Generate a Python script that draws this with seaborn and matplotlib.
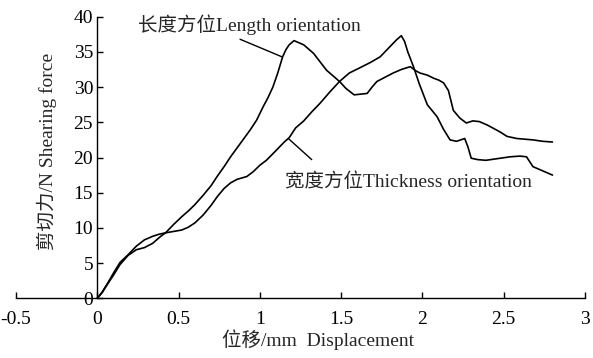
import matplotlib
matplotlib.use("Agg")
import matplotlib.pyplot as plt
import pandas as pd
import seaborn as sns

# values (displacement mm, force N)
length_x = [0.00, 0.03, 0.06, 0.10, 0.14, 0.19, 0.24, 0.29, 0.34, 0.39,
            0.42, 0.47, 0.52, 0.56, 0.60, 0.65, 0.70, 0.74, 0.78, 0.82,
            0.88, 0.94, 0.98, 1.02, 1.05, 1.08, 1.11, 1.14, 1.16, 1.18,
            1.21, 1.24, 1.27, 1.30, 1.33, 1.37, 1.41, 1.45, 1.49, 1.53,
            1.58, 1.62, 1.66, 1.69, 1.72, 1.77, 1.82, 1.87, 1.925, 1.96,
            1.985, 2.03, 2.07, 2.10, 2.13, 2.16, 2.19, 2.23, 2.27, 2.31,
            2.35, 2.40, 2.44, 2.48, 2.52, 2.58, 2.63, 2.68, 2.74, 2.80]
length_y = [0.0, 0.8, 1.9, 3.3, 4.8, 6.1, 6.9, 7.2, 7.8, 8.8,
            9.3, 10.5, 11.6, 12.4, 13.3, 14.6, 16.0, 17.4, 18.7, 20.1,
            22.0, 23.9, 25.3, 27.2, 28.5, 30.0, 32.0, 34.3, 35.3, 36.0,
            36.6, 36.3, 36.0, 35.4, 34.8, 33.6, 32.4, 31.6, 30.8, 29.8,
            28.9, 29.0, 29.1, 30.0, 30.8, 31.4, 32.0, 32.5, 32.9, 32.3,
            32.0, 31.7, 31.25, 31.0, 30.6, 29.5, 26.7, 25.6, 24.9, 25.2,
            25.1, 24.6, 24.1, 23.6, 23.0, 22.7, 22.6, 22.5, 22.3, 22.2]

thick_x = [0.00, 0.03, 0.06, 0.10, 0.14, 0.19, 0.24, 0.29, 0.34, 0.38,
           0.42, 0.47, 0.52, 0.56, 0.60, 0.65, 0.70, 0.74, 0.78, 0.82,
           0.86, 0.92, 0.96, 1.00, 1.04, 1.10, 1.15, 1.18, 1.22, 1.27,
           1.32, 1.37, 1.43, 1.49, 1.55, 1.62, 1.68, 1.74, 1.79, 1.84,
           1.87, 1.89, 1.91, 1.945, 1.98, 2.03, 2.09, 2.13, 2.17, 2.21,
           2.26, 2.28, 2.30, 2.34, 2.39, 2.45, 2.54, 2.60, 2.64, 2.68,
           2.74, 2.80]
thick_y = [0.0, 0.9, 2.0, 3.6, 5.1, 6.2, 7.4, 8.3, 8.8, 9.1,
           9.3, 9.5, 9.7, 10.1, 10.7, 11.8, 13.2, 14.5, 15.6, 16.4,
           16.9, 17.3, 18.0, 18.9, 19.6, 21.0, 22.2, 22.8, 24.2, 25.2,
           26.5, 27.7, 29.3, 30.8, 32.0, 32.8, 33.5, 34.3, 35.5, 36.7,
           37.3, 36.5, 35.0, 32.9, 30.5, 27.5, 25.8, 24.0, 22.5, 22.3,
           22.7, 21.5, 19.9, 19.7, 19.6, 19.8, 20.1, 20.2, 20.1, 18.7,
           18.1, 17.5]

x_ticks = [-0.5, 0, 0.5, 1, 1.5, 2, 2.5, 3]
x_tick_labels = ["-0.5", "0", "0.5", "1", "1.5", "2", "2.5", "3"]
y_ticks = [0, 5, 10, 15, 20, 25, 30, 35, 40]

length_label = "长度方位Length orientation"
thick_label = "宽度方位Thickness orientation"
x_label = "位移/mm  Displacement"
y_label = "剪切力/N Shearing force"

sns.set_theme(style="white")
plt.rcParams["font.family"] = ["Liberation Serif", "Noto Sans CJK SC"]
plt.rcParams["axes.unicode_minus"] = False

df_len = pd.DataFrame({"x": length_x, "y": length_y})
df_thk = pd.DataFrame({"x": thick_x, "y": thick_y})

fig = plt.figure(figsize=(5.93, 3.58), dpi=100)
ax = fig.add_axes([16 / 593, 1 - 298.3 / 358, 569 / 593, 281.6 / 358])

sns.lineplot(data=df_len, x="x", y="y", ax=ax, color="black", lw=1.2,
             sort=False, estimator=None)
sns.lineplot(data=df_thk, x="x", y="y", ax=ax, color="black", lw=1.2,
             sort=False, estimator=None)

ax.set_xlim(-0.5, 3)
ax.set_ylim(0, 40)
ax.set_xticks(x_ticks)
ax.set_xticklabels(x_tick_labels)
ax.set_yticks(y_ticks)
ax.set_xlabel("")
ax.set_ylabel("")

ax.spines["left"].set_position(("data", 0))
ax.spines["top"].set_visible(False)
ax.spines["right"].set_visible(False)
for s in ["left", "bottom"]:
    ax.spines[s].set_color("black")
    ax.spines[s].set_linewidth(1.0)

ax.tick_params(axis="both", direction="in", length=4, width=1.0,
               colors="black", labelsize=14)
ax.tick_params(axis="x", pad=9, bottom=True)
ax.tick_params(axis="y", pad=3, left=True)

# leader lines and labels
ax.annotate("", xy=(1.136, 34.3), xytext=(0.878, 36.8),
            arrowprops=dict(arrowstyle="-", color="black", lw=1.0,
                            shrinkA=0, shrinkB=0))
ax.text(0.933, 38.8, length_label, ha="center", va="center", fontsize=14)

ax.annotate("", xy=(1.175, 22.7), xytext=(1.319, 19.7),
            arrowprops=dict(arrowstyle="-", color="black", lw=1.0,
                            shrinkA=0, shrinkB=0))
ax.text(1.914, 16.5, thick_label, ha="center", va="center", fontsize=14)

fig.text(318 / 593, 1 - 340 / 358, x_label, ha="center", va="center",
         fontsize=14)
fig.text(47 / 593, 1 - 151 / 358, y_label, ha="center", va="center",
         rotation=90, fontsize=14)

fig.savefig("out.png", dpi=100)
